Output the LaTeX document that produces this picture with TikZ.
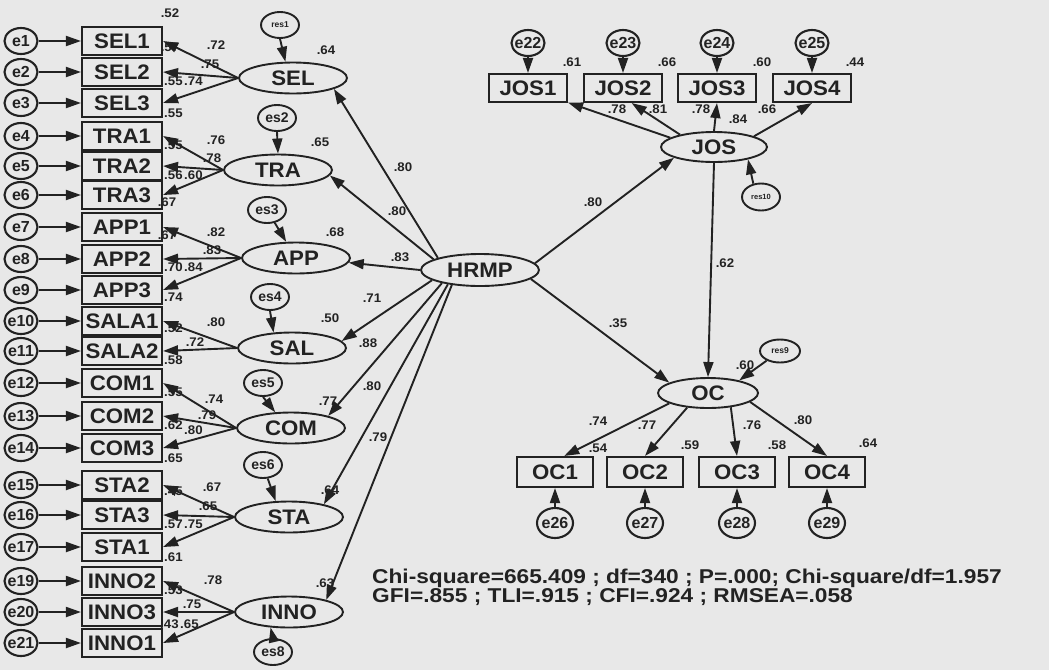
\documentclass[tikz,border=0pt]{standalone}
\usepackage{fontspec}
\setmainfont{Liberation Sans}
\usepackage{graphicx}
\usetikzlibrary{arrows.meta,shapes.geometric}
\definecolor{bg}{RGB}{232,232,232}
\definecolor{ink}{RGB}{34,34,34}
\newcommand{\wxx}[1]{\scalebox{1.06}[1]{#1}}
\newcommand{\zc}[1]{\makebox[0pt]{#1}}
\begin{document}
\begin{tikzpicture}[x=1pt,y=-1pt,
 every node/.style={text=ink},
 obs/.style={draw=ink, line width=2.1pt, minimum width=80pt, minimum height=28pt, inner sep=0pt, font=\fontsize{21}{21}\selectfont\bfseries},
 jobs/.style={obs, minimum width=78pt},
 ocb/.style={obs, minimum width=76pt, minimum height=30pt},
 lat/.style={draw=ink, ellipse, line width=1.9pt, minimum width=108pt, minimum height=31pt, inner sep=0pt, font=\fontsize{21}{21}\selectfont\bfseries},
 err/.style={draw=ink, ellipse, line width=2.1pt, minimum width=33pt, minimum height=26pt, inner sep=0pt, font=\fontsize{16}{16}\selectfont\bfseries},
 errb/.style={err, minimum width=36pt, minimum height=30pt},
 res/.style={draw=ink, ellipse, line width=1.9pt, minimum width=38pt, minimum height=26pt, inner sep=0pt, font=\fontsize{14}{14}\selectfont\bfseries},
 num/.style={font=\fontsize{12.5}{12.5}\selectfont\bfseries, inner sep=0pt},
 arr/.style={draw=ink, line width=1.9pt, -{Triangle[length=15pt,width=10pt]}},
]
\fill[bg] (0,0) rectangle (1049,670);
\useasboundingbox (0,0) rectangle (1049,670);

% left indicators
\foreach \n/\e/\y in {SEL1/e1/41, SEL2/e2/72, SEL3/e3/103, TRA1/e4/136, TRA2/e5/166, TRA3/e6/195, APP1/e7/227, APP2/e8/259, APP3/e9/290, SALA1/e10/321, SALA2/e11/351, COM1/e12/383, COM2/e13/416, COM3/e14/448, STA2/e15/485, STA3/e16/515, STA1/e17/547, INNO2/e19/581, INNO3/e20/612, INNO1/e21/643}{
  \node[obs] (\n) at (122,\y) {\wxx{\n}};
  \node[err] (\e) at (21,\y) {\zc{\e}};
  \draw[arr] (\e) -- (\n);
}

% latent variables
\node[lat] (SEL) at (293,78) {\wxx{SEL}};
\node[lat] (TRA) at (278,170) {\wxx{TRA}};
\node[lat] (APP) at (296,258) {\wxx{APP}};
\node[lat] (SAL) at (292,348) {\wxx{SAL}};
\node[lat] (COM) at (291,428) {\wxx{COM}};
\node[lat] (STA) at (289,517) {\wxx{STA}};
\node[lat] (INNO) at (289,612) {\wxx{INNO}};
\node[lat, minimum width=118pt, minimum height=32pt] (HRMP) at (480,270) {\wxx{HRMP}};
\node[lat, minimum width=106pt, minimum height=30pt] (JOS) at (714,147) {\wxx{JOS}};
\node[lat, minimum width=100pt, minimum height=30pt] (OC) at (708,393) {\wxx{OC}};

% residuals
\node[res] (res1) at (280,25) {\zc{\fontsize{8.5}{8.5}\selectfont res1}};
\node[res] (es2) at (277,118) {\zc{es2}};
\node[res] (es3) at (267,210) {\zc{es3}};
\node[res] (es4) at (270,297) {\zc{es4}};
\node[res] (es5) at (263,383) {\zc{es5}};
\node[res] (es6) at (263,465) {\zc{es6}};
\node[res] (es8) at (273,652) {\zc{es8}};
\node[res, minimum width=38pt, minimum height=27pt] (res10) at (761,197) {\zc{\fontsize{7.5}{7.5}\selectfont res10}};
\node[res, minimum width=40pt, minimum height=23pt] (res9) at (780,351) {\zc{\fontsize{8.5}{8.5}\selectfont res9}};

\draw[arr] (res1.south) -- (SEL.115);
\draw[arr] (es2.south) -- (TRA.north);
\draw[arr] (es3) -- (APP);
\draw[arr] (es4.south) -- (SAL.140);
\draw[arr] (es5.south) -- (COM.135);
\draw[arr] (es6) -- (STA.130);
\draw[arr] (es8.north) -- (INNO.220);
\draw[arr] (res10.120) -- (JOS.-20);
\draw[arr] (res9) -- (OC.22);

% loadings to left indicators
\foreach \a/\b in {SEL/SEL1, SEL/SEL2, SEL/SEL3, TRA/TRA1, TRA/TRA2, TRA/TRA3, APP/APP1, APP/APP2, APP/APP3, SAL/SALA1, SAL/SALA2, COM/COM1, COM/COM2, COM/COM3, STA/STA2, STA/STA3, STA/STA1, INNO/INNO2, INNO/INNO3, INNO/INNO1}{
  \draw[arr] (\a.west) -- (\b.east);
}

% structural paths
\draw[arr] (HRMP.164) -- (SEL.-15);
\draw[arr] (HRMP.167) -- (TRA.-6);
\draw[arr] (HRMP.180) -- (APP.-5);
\draw[arr] (HRMP.192) -- (SAL.8);
\draw[arr] (HRMP.199) -- (COM.18);
\draw[arr] (HRMP.204) -- (STA.20);
\draw[arr] (HRMP.208) -- (INNO.18);
\draw[arr] (HRMP.7) -- (JOS.195);
\draw[arr] (HRMP.-10) -- (OC.165);
\draw[arr] (JOS.south) -- (OC.north);

% JOS indicators
\foreach \n/\e/\x in {JOS1/e22/528, JOS2/e23/623, JOS3/e24/717, JOS4/e25/812}{
  \node[jobs] (\n) at (\x,88) {\wxx{\n}};
  \node[err] (\e) at (\x,43) {\zc{\e}};
  \draw[arr] (\e) -- (\n);
}
\draw[arr] (JOS.168) -- (JOS1.-20);
\draw[arr] (JOS.160) -- (JOS2.-60);
\draw[arr] (JOS.north) -- (JOS3.south);
\draw[arr] (JOS.15) -- (JOS4.south);

% OC indicators
\foreach \n/\e/\x in {OC1/e26/555, OC2/e27/645, OC3/e28/737, OC4/e29/827}{
  \node[ocb] (\n) at (\x,472) {\wxx{\n}};
  \node[errb] (\e) at (\x,523) {\zc{\e}};
  \draw[arr] (\e) -- (\n);
}
\draw[arr] (OC.195) -- (OC1.60);
\draw[arr] (OC.215) -- (OC2.north);
\draw[arr] (OC.-32) -- (OC3.north);
\draw[arr] (OC.-12) -- (OC4.north);

% coefficient labels (centred)
\foreach \x/\y/\t [count=\i] in {
 170/13/.52, 216/45/.72, 170/47/.57, 210/64/.75, 216/140/.76, 212/158/.78,
 167/202/.67, 167/235/.67, 216/232/.82, 212/250/.83, 216/322/.80, 195/342/.72,
 214/399/.74, 207/415/.79, 212/487/.67, 208/506/.65, 213/580/.78, 192/604/.75,
 326/50/.64, 320/142/.65, 335/232/.68, 330/318/.50, 328/401/.77, 330/490/.64, 325/583/.63,
 403/167/.80, 397/211/.80, 400/257/.83, 372/298/.71, 368/343/.88, 372/386/.80, 378/437/.79,
 593/202/.80, 618/323/.35, 725/263/.62,
 572/62/.61, 667/62/.66, 762/62/.60, 855/62/.44,
 617/109/.78, 658/109/.81, 701/109/.78, 738/119/.84, 767/109/.66,
 745/365/.60, 598/421/.74, 647/425/.77, 752/425/.76, 803/420/.80,
 598/448/.54, 690/445/.59, 777/445/.58, 868/443/.64}{
  \node[num] (c\i) at (\x,\y) {\wxx{\t}};
}
% labels sitting at the box corners (west anchored)
\foreach \x/\y/\t [count=\i] in {
 164/81/.55, 184/81/.74, 164/113/.55, 164/145/.55, 164/175/.56, 184/175/.60,
 164/267/.70, 184/267/.84, 164/297/.74, 164/328/.52, 164/360/.58, 164/392/.55,
 164/425/.62, 184/430/.80, 164/458/.65, 164/491/.45, 164/524/.57, 184/524/.75,
 164/557/.61, 164/590/.53, 160/624/.43, 180/624/.65}{
  \node[num, anchor=west] (w\i) at (\x,\y) {\wxx{\t}};
}

% fit statistics
\node[anchor=base west, inner sep=0pt, font=\fontsize{20}{20}\selectfont\bfseries] (fit1) at (372,583) {\scalebox{1.135}[1]{Chi-square=665.409 ; df=340 ; P=.000; Chi-square/df=1.957}};
\node[anchor=base west, inner sep=0pt, font=\fontsize{20}{20}\selectfont\bfseries] (fit2) at (372,602) {\scalebox{1.135}[1]{GFI=.855 ; TLI=.915 ; CFI=.924 ; RMSEA=.058}};
\end{tikzpicture}
\end{document}
